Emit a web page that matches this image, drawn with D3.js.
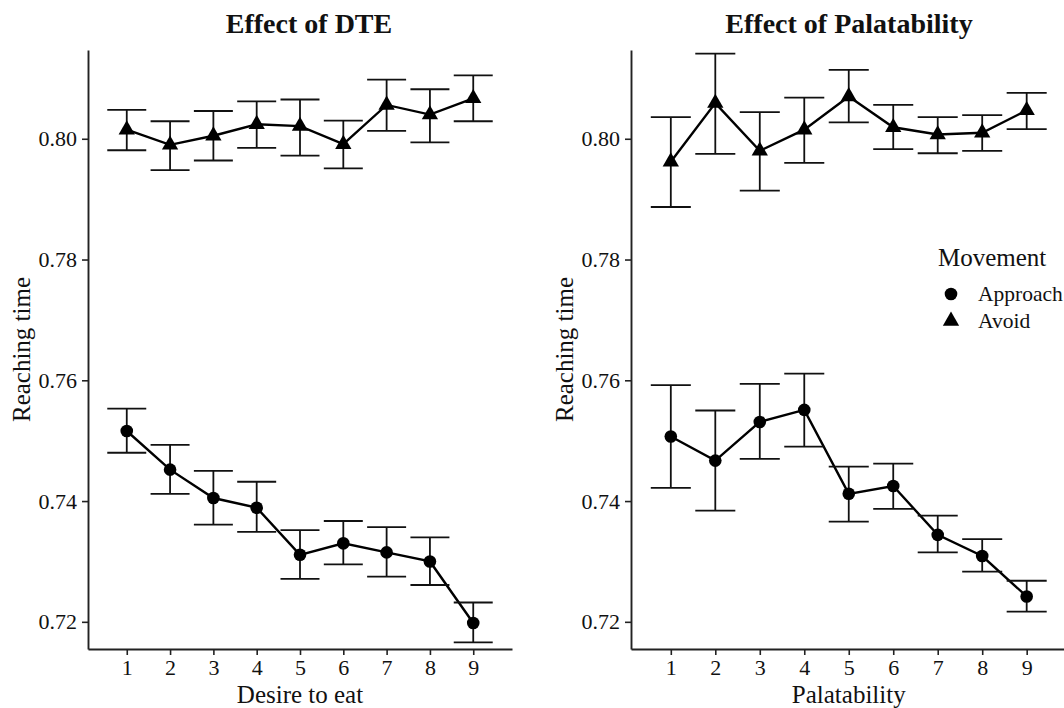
<!DOCTYPE html>
<html>
<head>
<meta charset="utf-8">
<script src="https://cdn.jsdelivr.net/npm/d3@7"></script>
<style>
  body { margin: 0; background: #fff; }
  text { font-family: "Liberation Serif", "Times New Roman", serif; fill: #111; }
</style>
</head>
<body>
<div id="chart-div"></div>
<script>
// x levels (rating 1-9)
const levels = [1, 2, 3, 4, 5, 6, 7, 8, 9];
const yTicks = [0.72, 0.74, 0.76, 0.78, 0.80];

// Effect of DTE
const dteAvoidMean = [0.8015, 0.7990, 0.8005, 0.8024, 0.8021, 0.7991, 0.8056, 0.8040, 0.8067];
const dteAvoidLow  = [0.7981, 0.7948, 0.7964, 0.7985, 0.7972, 0.7951, 0.8013, 0.7994, 0.8029];
const dteAvoidHigh = [0.8048, 0.8029, 0.8046, 0.8062, 0.8065, 0.8030, 0.8098, 0.8082, 0.8105];
const dteApproachMean = [0.7516, 0.7452, 0.7405, 0.7389, 0.7311, 0.7330, 0.7315, 0.7300, 0.7198];
const dteApproachLow  = [0.7480, 0.7412, 0.7361, 0.7349, 0.7271, 0.7295, 0.7275, 0.7261, 0.7166];
const dteApproachHigh = [0.7553, 0.7493, 0.7450, 0.7432, 0.7352, 0.7367, 0.7357, 0.7340, 0.7232];

// Effect of Palatability
const palAvoidMean = [0.7962, 0.8059, 0.7980, 0.8015, 0.8070, 0.8019, 0.8007, 0.8010, 0.8047];
const palAvoidLow  = [0.7887, 0.7975, 0.7914, 0.7960, 0.8027, 0.7983, 0.7976, 0.7980, 0.8016];
const palAvoidHigh = [0.8036, 0.8141, 0.8044, 0.8068, 0.8114, 0.8056, 0.8036, 0.8039, 0.8076];
const palApproachMean = [0.7507, 0.7467, 0.7531, 0.7551, 0.7412, 0.7425, 0.7344, 0.7309, 0.7242];
const palApproachLow  = [0.7422, 0.7384, 0.7470, 0.7490, 0.7366, 0.7387, 0.7315, 0.7283, 0.7217];
const palApproachHigh = [0.7592, 0.7550, 0.7594, 0.7611, 0.7457, 0.7462, 0.7376, 0.7337, 0.7268];

const movements = ['Approach', 'Avoid'];

const width = 1064;
const height = 708;

const svg = d3.select('#chart-div').append('svg')
    .attr('width', width)
    .attr('height', height)
    .attr('viewBox', [0, 0, width, height]);

const toRows = (mean, low, high) => levels.map((l, i) => ({ x: l, y: mean[i], lo: low[i], hi: high[i] }));

const shape = d3.scaleOrdinal()
    .domain(movements)
    .range([d3.symbolCircle, d3.symbolTriangle]);
const shapeSize = d3.scaleOrdinal()
    .domain(movements)
    .range([125, 115]);

const errWidth = 0.9;

const drawPanel = cfg => {
  const series = [
    { key: 'Approach', rows: toRows(cfg.approach[0], cfg.approach[1], cfg.approach[2]) },
    { key: 'Avoid', rows: toRows(cfg.avoid[0], cfg.avoid[1], cfg.avoid[2]) }
  ];

  // ggplot-like expansion: 5% of the span including errorbar caps
  const xMin = d3.min(levels) - errWidth / 2;
  const xMax = d3.max(levels) + errWidth / 2;
  const xPad = (xMax - xMin) * 0.05;

  const xScale = d3.scaleLinear()
      .domain([xMin - xPad, xMax + xPad])
      .range([cfg.left, cfg.right]);

  const yScale = d3.scaleLinear()
      .domain([0.7155, 0.8147])
      .range([649, 50]);

  const g = svg.append('g');

  const xAxis = d3.axisBottom(xScale)
      .tickValues(levels)
      .tickFormat(d3.format('d'))
      .tickSize(6)
      .tickPadding(3)
      .tickSizeOuter(0);

  const yAxis = d3.axisLeft(yScale)
      .tickValues(yTicks)
      .tickFormat(d3.format('.2f'))
      .tickSize(6)
      .tickPadding(5)
      .tickSizeOuter(0);

  const xAxisG = g.append('g')
      .attr('transform', `translate(0,${yScale.range()[0]})`)
      .call(xAxis);
  const yAxisG = g.append('g')
      .attr('transform', `translate(${cfg.left},0)`)
      .call(yAxis);

  [xAxisG, yAxisG].forEach(a => {
    a.select('.domain').attr('stroke', '#222').attr('stroke-width', 1.9);
    a.selectAll('.tick line').attr('stroke', '#222').attr('stroke-width', 1.6);
    a.selectAll('.tick text')
        .attr('font-family', '"Liberation Serif", serif')
        .attr('font-size', 22)
        .attr('fill', '#111');
  });
  xAxisG.selectAll('.tick text').attr('dy', '0.78em');

  // axis titles
  g.append('text')
      .attr('x', (cfg.left + cfg.right) / 2 + cfg.xLabelShift)
      .attr('y', 703)
      .attr('text-anchor', 'middle')
      .attr('font-size', 25)
      .text(cfg.xLabel);

  g.append('text')
      .attr('transform', `translate(${cfg.left - 58},${(50 + 649) / 2}) rotate(-90)`)
      .attr('text-anchor', 'middle')
      .attr('font-size', 25)
      .text('Reaching time');

  g.append('text')
      .attr('x', cfg.titleX)
      .attr('y', 33)
      .attr('text-anchor', 'middle')
      .attr('font-size', 28)
      .attr('font-weight', 'bold')
      .text(cfg.title);

  const line = d3.line()
      .x(d => xScale(d.x))
      .y(d => yScale(d.y));

  series.forEach(s => {
    const sg = g.append('g');

    sg.append('path')
        .datum(s.rows)
        .attr('d', line)
        .attr('fill', 'none')
        .attr('stroke', '#000')
        .attr('stroke-width', 2.4);

    const eb = sg.selectAll('.eb').data(s.rows)
      .enter().append('g')
        .attr('class', 'eb')
        .attr('stroke', '#111')
        .attr('stroke-width', 1.8);
    eb.append('line')
        .attr('x1', d => xScale(d.x)).attr('x2', d => xScale(d.x))
        .attr('y1', d => yScale(d.lo)).attr('y2', d => yScale(d.hi));
    eb.append('line')
        .attr('x1', d => xScale(d.x - errWidth / 2)).attr('x2', d => xScale(d.x + errWidth / 2))
        .attr('y1', d => yScale(d.lo)).attr('y2', d => yScale(d.lo));
    eb.append('line')
        .attr('x1', d => xScale(d.x - errWidth / 2)).attr('x2', d => xScale(d.x + errWidth / 2))
        .attr('y1', d => yScale(d.hi)).attr('y2', d => yScale(d.hi));

    sg.selectAll('.pt').data(s.rows)
      .enter().append('path')
        .attr('class', 'pt')
        .attr('transform', d => `translate(${xScale(d.x)},${yScale(d.y)})`)
        .attr('d', d3.symbol().type(shape(s.key)).size(shapeSize(s.key)))
        .attr('fill', '#000');
  });
};

drawPanel({
  left: 88, right: 512, title: 'Effect of DTE', titleX: 309,
  xLabel: 'Desire to eat', xLabelShift: 0,
  avoid: [dteAvoidMean, dteAvoidLow, dteAvoidHigh],
  approach: [dteApproachMean, dteApproachLow, dteApproachHigh]
});

drawPanel({
  left: 631, right: 1066.5, title: 'Effect of Palatability', titleX: 849,
  xLabel: 'Palatability', xLabelShift: 0,
  avoid: [palAvoidMean, palAvoidLow, palAvoidHigh],
  approach: [palApproachMean, palApproachLow, palApproachHigh]
});

// Legend
const legend = svg.append('g')
    .attr('class', 'legend')
    .attr('transform', 'translate(938,0)');

legend.append('text')
    .attr('x', 0)
    .attr('y', 266)
    .attr('font-size', 25)
    .text('Movement');

const items = legend.selectAll('.item').data(movements)
  .enter().append('g')
    .attr('class', 'item')
    .attr('transform', (d, i) => `translate(13,${294 + i * 27})`);

items.append('path')
    .attr('d', d => d3.symbol().type(shape(d)).size(shapeSize(d))())
    .attr('fill', '#000');

items.append('text')
    .attr('x', 27)
    .attr('y', 7)
    .attr('font-size', 21.5)
    .text(d => d);
</script>
</body>
</html>
